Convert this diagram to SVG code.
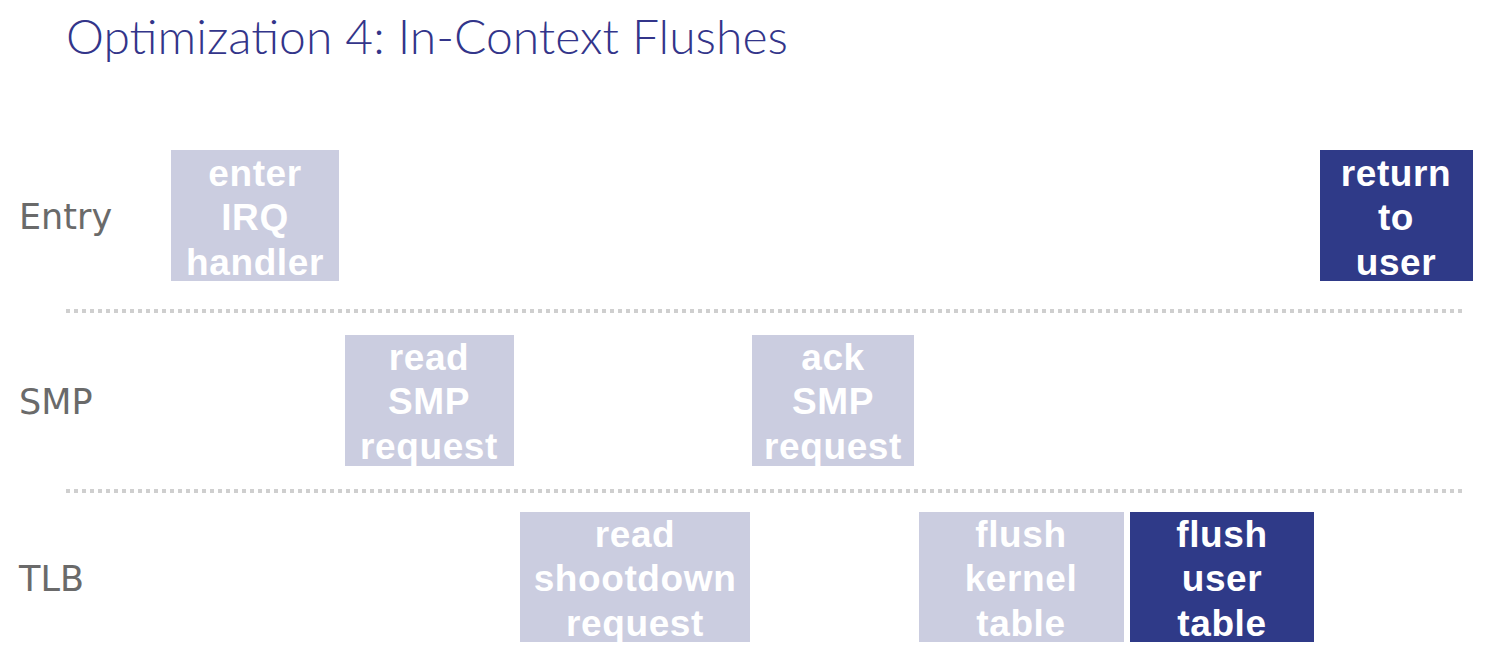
<svg xmlns="http://www.w3.org/2000/svg" width="1488" height="666" viewBox="0 0 1488 666">
<style>
.title{font-family:"Lato","Liberation Sans",sans-serif;font-weight:300;font-size:48px;fill:#33358a}
.lane{font-family:"DejaVu Sans","Liberation Sans",sans-serif;font-weight:400;font-size:35px;fill:#6a6a6a}
.light{fill:#cbcde0}
.dark{fill:#2f3a88}
.bt{font-family:"Liberation Sans",sans-serif;font-weight:bold;font-size:37px;letter-spacing:0.6px;fill:#ffffff;text-anchor:middle}
.sep{stroke:#cfcfcf;stroke-width:4;stroke-dasharray:4 4;fill:none}
</style>
<rect width="1488" height="666" fill="#ffffff"/>
<text class="title" x="66" y="54">Optimization 4: In-Context Flushes</text>
<g id="lanes">
<text class="lane" x="19" y="229">Entry</text>
<text class="lane" x="19" y="414">SMP</text>
<text class="lane" x="19" y="591">TLB</text>
</g>
<g id="connectors">
<line class="sep" x1="66" y1="311" x2="1464" y2="311"/>
<line class="sep" x1="66" y1="491" x2="1464" y2="491"/>
</g>
<g id="enter-irq">
<rect class="light" x="171" y="150" width="168" height="131"/>
<text class="bt" x="255" y="186">enter</text>
<text class="bt" x="255" y="230">IRQ</text>
<text class="bt" x="255" y="275">handler</text>
</g>
<g id="return-user">
<rect class="dark" x="1320" y="150" width="153" height="131"/>
<text class="bt" x="1396" y="186">return</text>
<text class="bt" x="1396" y="230">to</text>
<text class="bt" x="1396" y="275">user</text>
</g>
<g id="read-smp">
<rect class="light" x="345" y="335" width="169" height="131"/>
<text class="bt" x="429" y="370">read</text>
<text class="bt" x="429" y="414">SMP</text>
<text class="bt" x="429" y="459">request</text>
</g>
<g id="ack-smp">
<rect class="light" x="752" y="335" width="162" height="131"/>
<text class="bt" x="833" y="370">ack</text>
<text class="bt" x="833" y="414">SMP</text>
<text class="bt" x="833" y="459">request</text>
</g>
<g id="read-shootdown">
<rect class="light" x="520" y="512" width="230" height="130"/>
<text class="bt" x="635" y="547">read</text>
<text class="bt" x="635" y="591">shootdown</text>
<text class="bt" x="635" y="636">request</text>
</g>
<g id="flush-kernel">
<rect class="light" x="919" y="512" width="205" height="130"/>
<text class="bt" x="1021" y="547">flush</text>
<text class="bt" x="1021" y="591">kernel</text>
<text class="bt" x="1021" y="636">table</text>
</g>
<g id="flush-user">
<rect class="dark" x="1130" y="512" width="184" height="130"/>
<text class="bt" x="1222" y="547">flush</text>
<text class="bt" x="1222" y="591">user</text>
<text class="bt" x="1222" y="636">table</text>
</g>
</svg>
